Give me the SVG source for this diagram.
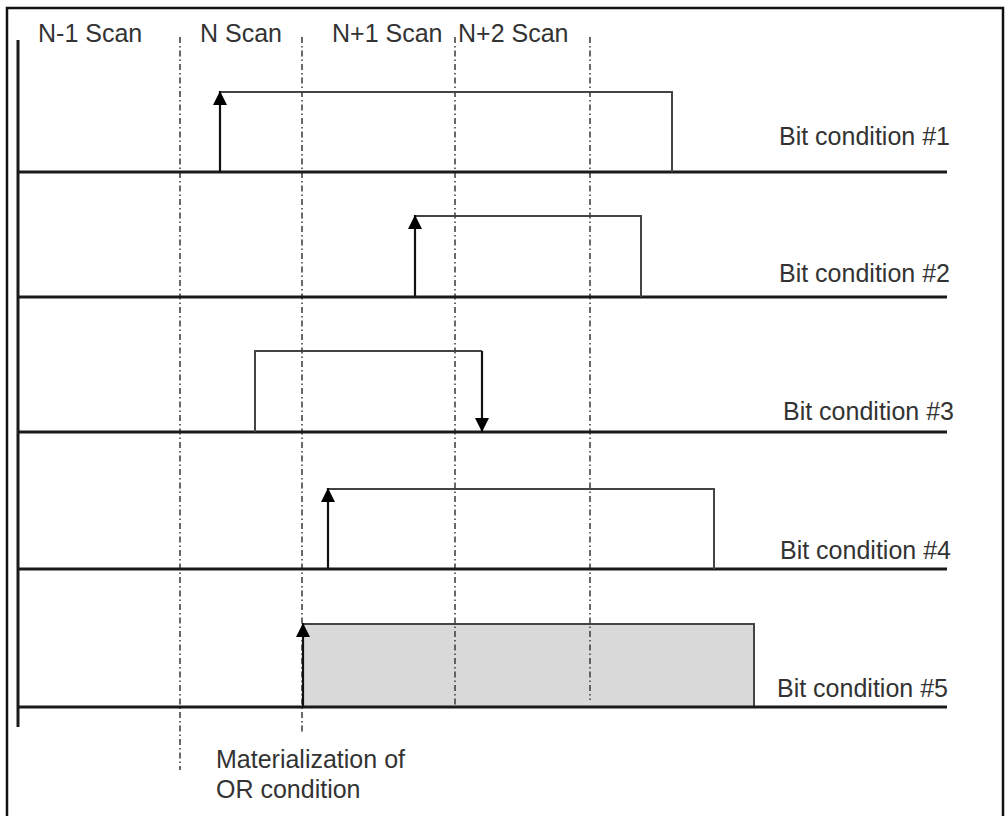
<svg xmlns="http://www.w3.org/2000/svg" width="1008" height="816" viewBox="0 0 1008 816">
  <style>
    .txt { font-family: "Liberation Sans", Arial, sans-serif; font-size: 25px; fill: #333; }
    .base { stroke: #1a1a1a; stroke-width: 3; fill: none; }
    .pulse { stroke: #444; stroke-width: 2; fill: none; }
    .pulsefill { stroke: #444; stroke-width: 2; fill: #d9d9d9; }
    .edge { stroke: #111; stroke-width: 2.2; fill: none; marker-end: url(#arrow); }
    .guide { stroke: #444; stroke-width: 1.6; fill: none; stroke-dasharray: 6 3 1.5 3; }
    .frame { stroke: #111; stroke-width: 2.5; fill: none; }
  </style>
  <defs>
    <marker id="arrow" markerUnits="userSpaceOnUse" markerWidth="14" markerHeight="14" viewBox="0 0 10 10" refX="10" refY="5" orient="auto">
      <path d="M0,0 L10,5 L0,10 z" fill="#000"/>
    </marker>
  </defs>
  <rect x="0" y="0" width="1008" height="816" fill="#fff"/>
  <path class="frame" d="M7,820 V8 H1003 V820"/>

  <g id="header">
    <text class="txt" x="38" y="42">N-1 Scan</text>
    <text class="txt" x="200" y="42">N Scan</text>
    <text class="txt" x="332" y="42">N+1 Scan</text>
    <text class="txt" x="458" y="42">N+2 Scan</text>
  </g>

  <g id="axis">
    <line x1="18" y1="40" x2="18" y2="727" stroke="#1a1a1a" stroke-width="3"/>
  </g>

  <g id="row5">
    <path class="pulsefill" d="M303,707 V624 H754 V707 Z"/>
  </g>

  <g id="connectors">
    <line class="guide" x1="180" y1="37" x2="180" y2="770"/>
    <line class="guide" x1="302" y1="37" x2="302" y2="733"/>
    <line class="guide" x1="455" y1="37" x2="455" y2="707"/>
    <line class="guide" x1="590" y1="37" x2="590" y2="700"/>
  </g>

  <g id="row1">
    <line class="base" x1="18" y1="172" x2="947" y2="172"/>
    <path class="pulse" d="M220,92 H672 V172"/>
    <line class="edge" x1="220" y1="172" x2="220" y2="91"/>
    <text class="txt" x="779" y="145">Bit condition #1</text>
  </g>

  <g id="row2">
    <line class="base" x1="18" y1="297" x2="947" y2="297"/>
    <path class="pulse" d="M415,216 H641 V297"/>
    <line class="edge" x1="415" y1="297" x2="415" y2="215"/>
    <text class="txt" x="779" y="282">Bit condition #2</text>
  </g>

  <g id="row3">
    <line class="base" x1="18" y1="432" x2="947" y2="432"/>
    <path class="pulse" d="M255,432 V351 H482"/>
    <line class="edge" x1="482" y1="351" x2="482" y2="432"/>
    <text class="txt" x="783" y="420">Bit condition #3</text>
  </g>

  <g id="row4">
    <line class="base" x1="18" y1="569" x2="947" y2="569"/>
    <path class="pulse" d="M328,489 H714 V569"/>
    <line class="edge" x1="328" y1="569" x2="328" y2="488"/>
    <text class="txt" x="780" y="559">Bit condition #4</text>
  </g>

  <g id="row5-edges">
    <line class="base" x1="18" y1="707" x2="947" y2="707"/>
    <line class="edge" x1="303" y1="707" x2="303" y2="623"/>
    <text class="txt" x="777" y="697">Bit condition #5</text>
  </g>

  <g id="note">
    <text class="txt" x="216" y="768">Materialization of</text>
    <text class="txt" x="216" y="798">OR condition</text>
  </g>
</svg>
